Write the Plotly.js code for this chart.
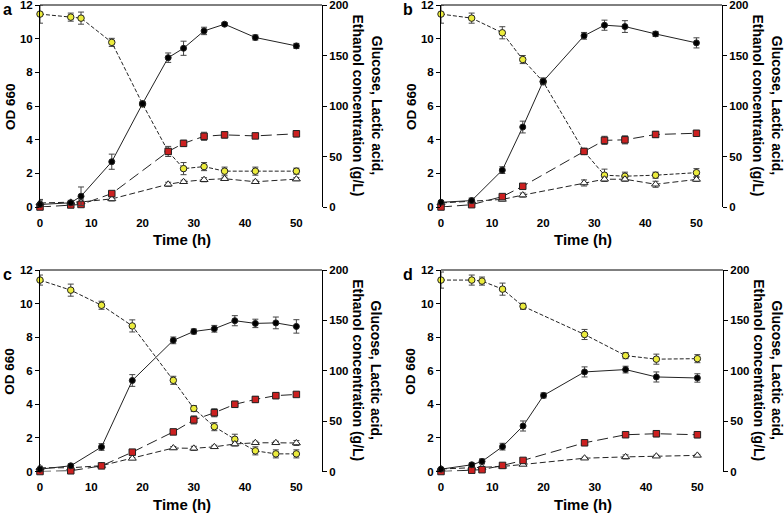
<!DOCTYPE html>
<html><head><meta charset="utf-8">
<script src="https://cdn.plot.ly/plotly-3.0.1.min.js"></script>
<style>html,body{margin:0;padding:0;background:#fff}#chart{width:784px;height:516px}</style>
</head><body><div id="chart"></div>
<script>
// ---------- Panel a ----------
const a_od_t   = [0,6,8,14,20,25,28,32,36,42,50];
const a_od     = [0.15,0.25,0.64,2.69,6.14,8.87,9.43,10.46,10.86,10.07,9.57];
const a_od_err = [0.3,0.1,0.55,0.45,0.12,0.28,0.42,0.22,0.1,0.15,0.15];
const a_glu_t   = [0,6,8,14,20,25,28,32,36,42,50];
const a_glu     = [191,188,187,163,102,55,38,40,35.5,35.5,35.5];
const a_glu_err = [9,4,6,4,0,0,6,4,4,4,3];
const a_lac_t   = [0,6,8,14,25,28,32,36,42,50];
const a_lac     = [0,2,2.5,13.3,55,63,70,71.4,70.4,72.5];
const a_lac_err = [1,1,1,2,5,3,4,3,2,3];
const a_eth_t   = [0,6,8,14,25,28,32,36,42,50];
const a_eth     = [4,4.6,5,8,22.5,25,27,28,25,27.6];
const a_eth_err = [2,2,2,2,2,1.5,2,1.5,1.5,1.5];
// ---------- Panel b ----------
const b_od_t   = [0,6,12,16,20,28,32,36,42,50];
const b_od     = [0.28,0.38,2.19,4.75,7.47,10.17,10.8,10.72,10.28,9.75];
const b_od_err = [0.1,0.15,0.2,0.35,0.2,0.2,0.3,0.35,0.15,0.3];
const b_glu_t   = [0,6,12,16,20,28,32,36,42,50];
const b_glu     = [191,187,172.5,146,124,55,31.5,30.5,31.5,34];
const b_glu_err = [9,5,6,4,0,0,6,4,3,4];
const b_lac_t   = [0,6,12,16,28,32,36,42,50];
const b_lac     = [0,2.3,10.3,20.5,55,66,66.5,71.8,73];
const b_lac_err = [0.5,1,1,1,3,4,4,3,2];
const b_eth_t   = [0,6,12,16,28,32,36,42,50];
const b_eth     = [4,5.5,7.5,11.8,23.8,27.5,27.5,22.5,27.3];
const b_eth_err = [1,1.5,1.5,2,3,2,2,3,2];
// ---------- Panel c ----------
const c_t = [0,6,12,18,26,30,34,38,42,46,50];
const c_od     = [0.14,0.34,1.46,5.42,7.81,8.34,8.5,8.98,8.82,8.85,8.64];
const c_od_err = [0.1,0.1,0.2,0.35,0.2,0.15,0.2,0.3,0.25,0.35,0.4];
const c_glu     = [190,180,165,144.5,90.5,62.5,44.5,32,20.5,17.5,17.5];
const c_glu_err = [5,6,4,6,4,3,4,5,4,4,4];
const c_lac     = [0,0.7,5.6,19.2,39.3,51.2,58.3,66.7,71.5,75.3,76.5];
const c_lac_err = [1,1,1,2,2,4,4,3,3,3,2];
const c_eth     = [3.7,3.7,5.8,13,23.3,23,24.5,27.3,28.5,28.5,28.3];
const c_eth_err = [1.5,1.5,1.5,1,1.5,2,1.5,2,1.5,1.5,2.5];
// ---------- Panel d ----------
const d_od_t   = [0,6,8,12,16,20,28,36,42,50];
const d_od     = [0.14,0.4,0.6,1.48,2.71,4.53,5.93,6.07,5.63,5.57];
const d_od_err = [0.1,0.1,0.15,0.2,0.3,0.15,0.3,0.2,0.3,0.25];
const d_t   = [0,6,8,12,16,28,36,42,50];
const d_glu     = [190,190,189,181,164,136,115,111.5,112];
const d_glu_err = [8,5,4,6,3,5,3,5,4];
const d_lac     = [0,1.3,1.8,6,11,28.5,36.5,37.5,36.5];
const d_lac_err = [0.5,0.5,0.5,1.5,1,2,2,3,3];
const d_eth     = [2.5,4,4,5,7,13.2,14.5,15.2,16];
const d_eth_err = [1,1,1,1,1,1,2,1,1];

const xTicks = [0,10,20,30,40,50];
const odTicks = [0,2,4,6,8,10,12];
const concTicks = [0,50,100,150,200];
const panelLabels = ['a','b','c','d'];
const xTitle = 'Time (h)';
const yTitle = 'OD 660';
const y2Title = 'Glucose, Lactic acid,<br>Ethanol concentration (g/L)';

const styles = {
  glu: {dash:'4px,2px', sym:'circle', size:6.5, fill:'#ecec3c'},
  eth: {dash:'6px,3px', sym:'triangle-up', size:7, fill:'#ffffff'},
  lac: {dash:'11px,5px', sym:'square', size:6.5, fill:'#cc2020'},
  od:  {dash:'solid', sym:'circle', size:6, fill:'#000000'}
};
function tr(x, y, err, xa, ya, st){
  const s = styles[st];
  return {x:x, y:y, xaxis:xa, yaxis:ya, type:'scatter', mode:'lines+markers', cliponaxis:false,
    line:{color:'#222', width:1, dash:s.dash},
    marker:{symbol:s.sym, size:s.size, color:s.fill, line:{color:'#222', width:1}},
    error_y:{type:'data', array:err, visible:true, color:'#444', thickness:1, width:3},
    showlegend:false, hoverinfo:'skip'};
}
// left (OD) axes y..y4 overlay the right (concentration) axes y5..y8 so OD marks are drawn on top
const panels = [
  {xa:'x',  yl:'y',  yr:'y5', od_t:a_od_t, od:a_od, od_e:a_od_err, glu_t:a_glu_t, glu:a_glu, glu_e:a_glu_err, lac_t:a_lac_t, lac:a_lac, lac_e:a_lac_err, eth_t:a_eth_t, eth:a_eth, eth_e:a_eth_err},
  {xa:'x2', yl:'y2', yr:'y6', od_t:b_od_t, od:b_od, od_e:b_od_err, glu_t:b_glu_t, glu:b_glu, glu_e:b_glu_err, lac_t:b_lac_t, lac:b_lac, lac_e:b_lac_err, eth_t:b_eth_t, eth:b_eth, eth_e:b_eth_err},
  {xa:'x3', yl:'y3', yr:'y7', od_t:c_t, od:c_od, od_e:c_od_err, glu_t:c_t, glu:c_glu, glu_e:c_glu_err, lac_t:c_t, lac:c_lac, lac_e:c_lac_err, eth_t:c_t, eth:c_eth, eth_e:c_eth_err},
  {xa:'x4', yl:'y4', yr:'y8', od_t:d_od_t, od:d_od, od_e:d_od_err, glu_t:d_t, glu:d_glu, glu_e:d_glu_err, lac_t:d_t, lac:d_lac, lac_e:d_lac_err, eth_t:d_t, eth:d_eth, eth_e:d_eth_err}
];
const data = [];
panels.forEach(p => {
  data.push(tr(p.glu_t, p.glu, p.glu_e, p.xa, p.yr, 'glu'));
  data.push(tr(p.eth_t, p.eth, p.eth_e, p.xa, p.yr, 'eth'));
  data.push(tr(p.lac_t, p.lac, p.lac_e, p.xa, p.yr, 'lac'));
  data.push(tr(p.od_t, p.od, p.od_e, p.xa, p.yl, 'od'));
});

const W = 784, H = 516;
// pixel boxes [left, right, top, bottom]
const boxes = [[40,322,5,207],[441,722,5,207],[40,322,270,471.5],[441,723,270,471.5]];
const FAM = 'Liberation Sans, Arial, sans-serif';
const tf = {family:FAM, size:11.5, color:'#000', weight:'bold'};
const layout = {width:W, height:H, margin:{l:0,r:0,t:0,b:0}, paper_bgcolor:'#fff', plot_bgcolor:'rgba(0,0,0,0)',
  showlegend:false, annotations:[], shapes:[]};
boxes.forEach((b,i) => {
  const n = i+1;
  const xd = [b[0]/W, b[1]/W], yd = [1-b[3]/H, 1-b[2]/H];
  const xk = n===1 ? 'xaxis' : 'xaxis'+n;
  const ylk = n===1 ? 'yaxis' : 'yaxis'+n;
  const yrk = 'yaxis'+(n+4);
  const xid = n===1 ? 'x' : 'x'+n;
  const ylid = n===1 ? 'y' : 'y'+n;
  const yrid = 'y'+(n+4);
  layout[xk] = {domain:xd, anchor:yrid, range:[0,55], tickvals:xTicks, ticks:'outside', ticklen:5,
    tickcolor:'rgba(0,0,0,0)', showline:false, showgrid:false, zeroline:false, tickfont:tf, ticklabeloverflow:'allow'};
  layout[yrk] = {domain:yd, anchor:xid, side:'right', range:[0,200], tickvals:concTicks,
    ticks:'outside', ticklen:4, tickcolor:'#000', showline:true, linecolor:'#000', linewidth:1,
    showgrid:false, zeroline:false, tickfont:tf, ticklabeloverflow:'allow'};
  layout[ylk] = {anchor:xid, overlaying:yrid, side:'left', range:[0,12], tickvals:odTicks, ticks:'outside', ticklen:4,
    tickcolor:'#000', showline:true, linecolor:'#000', linewidth:1, showgrid:false, zeroline:false, tickfont:tf,
    ticklabeloverflow:'allow'};
  layout.shapes.push({type:'line', xref:xid+' domain', yref:yrid+' domain', x0:0, x1:1, y0:1, y1:1,
    line:{color:'#000', width:1}});
  const cx = (b[0]+b[1])/2, cy = (b[2]+b[3])/2;
  layout.annotations.push({xref:'paper', yref:'paper', x:(cx+1)/W, y:1-(b[3]+33)/H, text:xTitle, showarrow:false,
    xanchor:'center', yanchor:'middle', font:{family:FAM, size:15, color:'#000', weight:'bold'}});
  layout.annotations.push({xref:'paper', yref:'paper', x:(b[0]-30)/W, y:1-(cy+1)/H, text:yTitle, showarrow:false,
    xanchor:'center', yanchor:'middle', textangle:-90, font:{family:FAM, size:13.5, color:'#000', weight:'bold'}});
  layout.annotations.push({xref:'paper', yref:'paper', x:(b[1]+45.5)/W, y:1-(cy-1)/H, text:y2Title, showarrow:false,
    xanchor:'center', yanchor:'middle', textangle:90, align:'center',
    font:{family:FAM, size:14, color:'#000', weight:'bold'}});
  layout.annotations.push({xref:'paper', yref:'paper', x:(b[0]-33)/W, y:1-(b[2]+4)/H, text:panelLabels[i], showarrow:false,
    xanchor:'center', yanchor:'middle', font:{family:FAM, size:16, color:'#000', weight:'bold'}});
});
Plotly.newPlot('chart', data, layout, {displayModeBar:false, staticPlot:true});
</script></body></html>
